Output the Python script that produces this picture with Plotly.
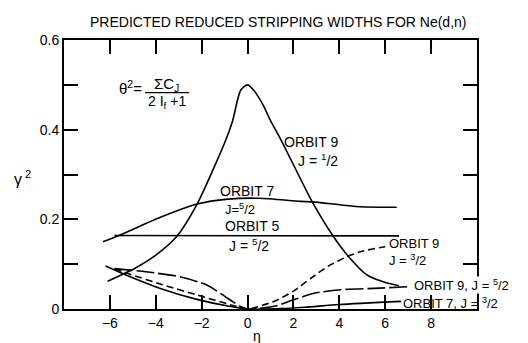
import plotly.graph_objects as go

# ---------------- data ----------------
eta_o9_j12 = [-6.1, -4.9, -4.0, -3.1, -2.2, -0.94, -0.65, -0.3, 0.0, 0.27, 0.72, 1.0, 1.45, 2.82, 3.75, 4.35, 5.2, 5.94, 6.6]
g_o9_j12 = [0.062, 0.091, 0.12, 0.161, 0.234, 0.378, 0.42, 0.488, 0.5, 0.488, 0.451, 0.42, 0.378, 0.239, 0.161, 0.12, 0.076, 0.06, 0.052]

eta_o7_j52 = [-6.3, -5.6, -3.77, -2.2, -0.86, 0.5, 2.3, 2.82, 4.9, 6.5]
g_o7_j52 = [0.15, 0.164, 0.205, 0.234, 0.245, 0.247, 0.240, 0.239, 0.228, 0.227]

eta_o5_j52 = [-5.8, 6.6]
g_o5_j52 = [0.164, 0.163]

eta_o9_j32 = [-5.8, -5.15, -3.7, -2.25, -0.5, 0.0, 1.2, 2.0, 2.8, 3.5, 4.35, 5.0, 6.0]
g_o9_j32 = [0.09, 0.078, 0.054, 0.032, 0.006, 0.0, 0.018, 0.04, 0.07, 0.095, 0.117, 0.129, 0.139]

eta_o9_j52 = [-5.8, -4.42, -2.97, -1.8, -1.1, -0.36, 0.0, 1.16, 2.03, 2.9, 4.06, 5.5, 7.1]
g_o9_j52 = [0.09, 0.083, 0.072, 0.054, 0.032, 0.007, 0.0, 0.006, 0.021, 0.035, 0.043, 0.046, 0.05]

eta_o7_j32 = [-6.19, -5.3, -3.7, -2.25, -0.8, 0.0, 1.5, 2.5, 4.0, 6.7]
g_o7_j32 = [0.096, 0.076, 0.044, 0.022, 0.006, 0.0, 0.001, 0.004, 0.01, 0.017]

x_tickvals = [-8, -6, -4, -2, 0, 2, 4, 6, 8, 10]
x_ticktext = ["", "\u22126", "\u22124", "\u22122", "0", "2", "4", "6", "8", ""]
y_tickvals = [0, 0.1, 0.2, 0.3, 0.4, 0.5, 0.6]
y_ticktext = ["0", "", "0.2", "", "0.4", "", "0.6"]

title_text = "PREDICTED REDUCED STRIPPING WIDTHS FOR Ne(d,n)"

# ---------------- figure ----------------
W, H = 528, 343
ML, MR, MT, MB = 64, 51, 40, 32
PW, PH = W - ML - MR, H - MT - MB


def px(x, y):
    """pixel position -> paper coords"""
    return (x - ML) / PW, (H - MB - y) / PH


FONT = "Liberation Sans"
fig = go.Figure()

line_kw = dict(color="black", width=1.6, shape="spline", smoothing=0.7)
fig.add_trace(go.Scatter(x=eta_o9_j12, y=g_o9_j12, mode="lines", line=line_kw))
fig.add_trace(go.Scatter(x=eta_o7_j52, y=g_o7_j52, mode="lines", line=line_kw))
fig.add_trace(go.Scatter(x=eta_o5_j52, y=g_o5_j52, mode="lines", line=dict(color="black", width=1.6)))
fig.add_trace(go.Scatter(x=eta_o9_j32, y=g_o9_j32, mode="lines",
                         line=dict(line_kw, dash="7px,4px")))
fig.add_trace(go.Scatter(x=eta_o9_j52, y=g_o9_j52, mode="lines",
                         line=dict(line_kw, dash="18px,4px")))
fig.add_trace(go.Scatter(x=eta_o7_j32, y=g_o7_j32, mode="lines", line=line_kw))

ann = []


def text(t, x, y, size=14, xanchor="center", bg=None):
    xp, yp = px(x, y)
    d = dict(text=t, x=xp, y=yp, xref="paper", yref="paper", showarrow=False,
             xanchor=xanchor, yanchor="middle", font=dict(size=size, color="black", family=FONT))
    if bg:
        d.update(bgcolor=bg, borderpad=0)
    ann.append(d)


# curve labels
text("ORBIT 9", 311, 143)
text("J = <sup>1</sup>/2", 318, 161)
text("ORBIT 7", 247, 192)
text("J=<sup>5</sup>/2", 240, 210, size=13)
text("ORBIT 5", 252, 227)
text("J = <sup>5</sup>/2", 249, 247)
text("ORBIT 9", 387, 245, size=13, xanchor="left")
text("J = <sup>3</sup>/2", 387, 262, size=13, xanchor="left")
text("ORBIT 9, J = <sup>5</sup>/2", 413, 287, size=13, xanchor="left", bg="white")
text("ORBIT 7, J = <sup>3</sup>/2", 401, 305, size=13, xanchor="left")

# formula
text("\u03b8<sup>2</sup>=", 144, 88, size=15, xanchor="right")
text("\u03a3C<sub>J</sub>", 166, 85, size=15)
text("2 I<sub>f</sub> +1", 167, 102, size=14)

# title and axis labels
text(title_text, 278, 22, size=14)
text("\u03b7", 257, 338, size=14)
text("\u03b3<sup> 2</sup>", 22, 179, size=16)

x0, y0 = px(145, 93)
x1, _ = px(189, 93)
fig.add_shape(type="line", xref="paper", yref="paper", x0=x0, x1=x1, y0=y0, y1=y0,
              line=dict(color="black", width=1.2))

axis_common = dict(showline=True, linewidth=2, linecolor="black", mirror="ticks",
                   ticks="inside", ticklen=14, tickwidth=1.5, tickcolor="black",
                   showgrid=False, zeroline=False,
                   tickfont=dict(size=14, color="black", family=FONT))

fig.update_layout(
    width=W, height=H,
    margin=dict(l=ML, r=MR, t=MT, b=MB),
    paper_bgcolor="white", plot_bgcolor="white",
    showlegend=False,
    annotations=ann,
    xaxis=dict(axis_common, range=[-8, 10], tickvals=x_tickvals, ticktext=x_ticktext),
    yaxis=dict(axis_common, range=[0, 0.6], tickvals=y_tickvals, ticktext=y_ticktext),
)

fig.write_html("out.html", config={"displayModeBar": False})
